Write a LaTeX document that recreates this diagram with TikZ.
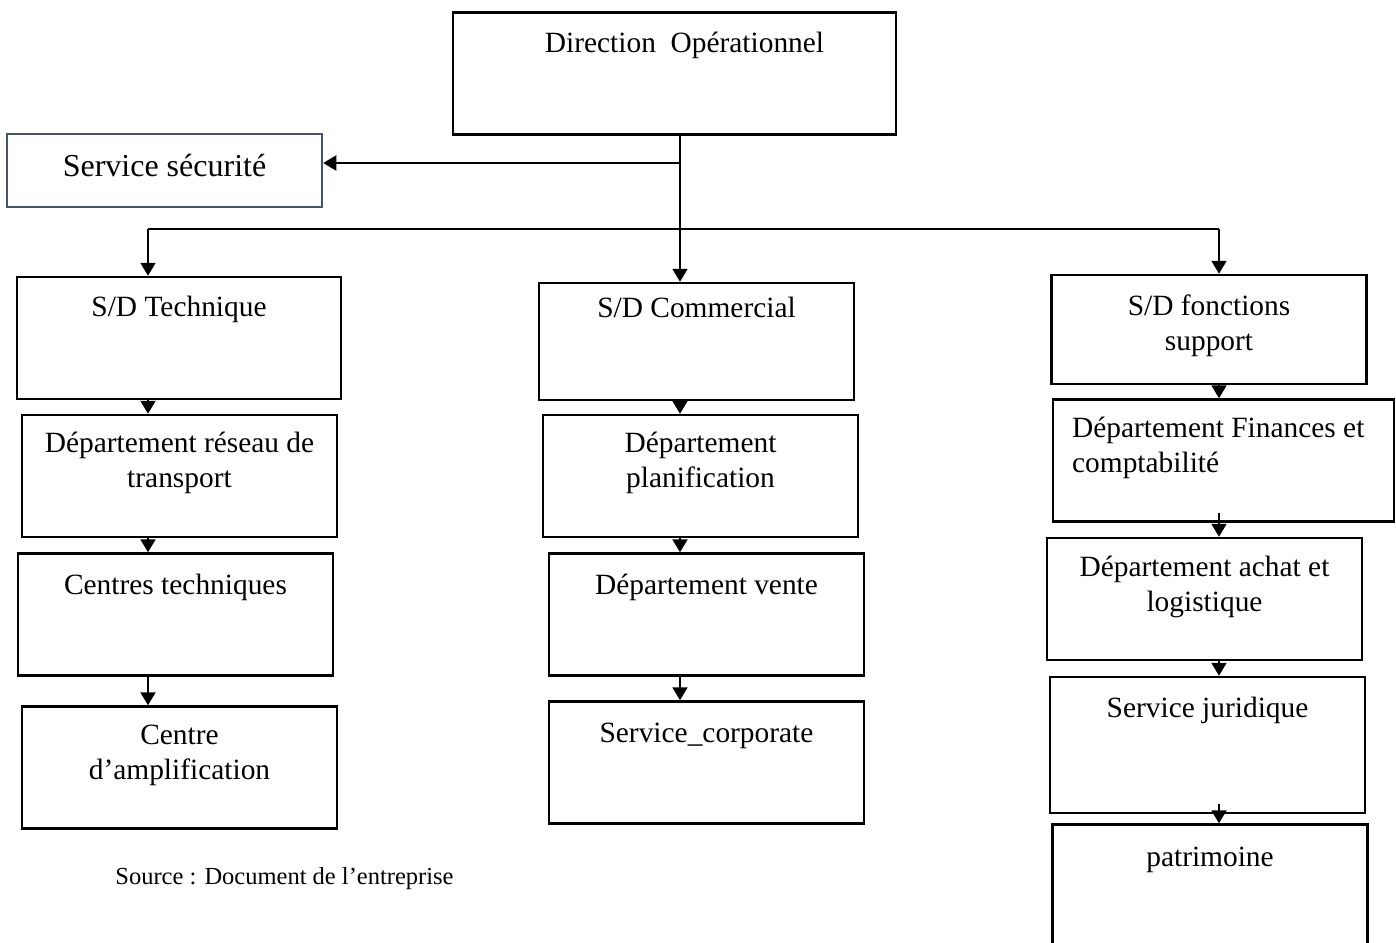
\documentclass[tikz,border=0pt]{standalone}
\usepackage{fontspec}
\setmainfont{Liberation Serif}
\usetikzlibrary{arrows.meta}
\definecolor{secuborder}{RGB}{68,84,106}
\tikzset{
  unit/.style={draw, line width=1.25pt, inner sep=0pt, minimum width=157.5pt, minimum height=61pt},
  lab/.style={align=center, inner sep=0pt, anchor=north, yshift=-8.75pt,
    font=\fontsize{14.7}{17.5}\selectfont, execute at begin node=\strut},
  link/.style={line width=1pt, -{Triangle[length=6.5pt,width=7.5pt]}},
}
\begin{document}
\begin{tikzpicture}[x=0.5pt, y=-0.5pt]
  \clip (0,0) rectangle (1396,942);
  % direction
  \node[unit, minimum width=221.5pt, label={[lab, xshift=5pt, yshift=0.5pt]north:Direction\ \ Opérationnel}] (dir) at (674.5,73.5) {};
  \node[unit, draw=secuborder, minimum height=36.5pt, label={[lab, yshift=-0.75pt, font=\fontsize{16}{17.5}\selectfont]north:Service sécurité}] (secu) at (164.5,170.5) {};
  % S/D Technique
  \node[unit, minimum width=162pt, label={[lab, yshift=1pt]north:S/D Technique}] (sdt) at (179,338) {};
  \node[unit, label={[lab]north:Département réseau de\\transport}] (reseau) at (179.5,476) {};
  \node[unit, label={[lab]north:Centres techniques}] (centres) at (175.5,614.5) {};
  \node[unit, label={[lab, yshift=-1pt]north:Centre\\d’amplification}] (ampli) at (179.5,767.5) {};
  % S/D Commercial
  \node[unit, minimum height=58.5pt, label={[lab, yshift=3.5pt]north:S/D Commercial}] (com) at (696.5,341.5) {};
  \node[unit, label={[lab]north:Département\\planification}] (planif) at (700.5,476) {};
  \node[unit, label={[lab]north:Département vente}] (vente) at (706.5,614.5) {};
  \node[unit, label={[lab]north:Service\_corporate}] (corpo) at (706.5,762.5) {};
  % S/D fonctions support
  \node[unit, minimum height=54.5pt, label={[lab, yshift=-1.5pt]north:S/D fonctions\\support}] (sdfs) at (1209,329.5) {};
  \node[unit, minimum width=170.5pt, label={[lab, align=left, anchor=north west, xshift=10pt, yshift=-0.5pt]north west:Département Finances et\\comptabilité}] (fin) at (1223.5,460.5) {};
  \node[unit, label={[lab, yshift=-0.5pt]north:Département achat et\\logistique}] (achat) at (1204.5,599) {};
  \node[unit, minimum height=68pt, label={[lab, yshift=0.5pt]north:Service juridique}] (jur) at (1207.5,745) {};
  \node[unit, label={[lab, yshift=-0.5pt]north:patrimoine}] (patri) at (1210,885.5) {};
  % source
  \node[anchor=base west, inner sep=0pt, font=\fontsize{12.25}{14}\selectfont] (src) at (115,884) {Source : Document de l’entreprise};
  % liaisons
  \coordinate (split) at (680,163);
  \coordinate (bus) at (680,229);
  \coordinate (busL) at (148,229);
  \coordinate (busR) at (1219,229);
  \draw[line width=1pt] (dir.south -| split) -- (bus);
  \draw[link] (split) -- (split -| secu.east);
  \draw[line width=0.75pt] (busL) -- (busR);
  \draw[link] (busL) -- (busL |- sdt.north);
  \draw[link] (bus) -- (bus |- com.north);
  \draw[link] (busR) -- (busR |- sdfs.north);
  \draw[link] (busL |- sdt.south) -- (busL |- reseau.north);
  \draw[link] (busL |- reseau.south) -- (busL |- centres.north);
  \draw[link] (busL |- centres.south) -- (busL |- ampli.north);
  \draw[link] (bus |- com.south) -- (bus |- planif.north);
  \draw[link] (bus |- planif.south) -- (bus |- vente.north);
  \draw[link] (bus |- vente.south) -- (bus |- corpo.north);
  \draw[link] (busR |- sdfs.south) -- (busR |- fin.north);
  \draw[link] ([yshift=5pt]busR |- fin.south) -- (busR |- achat.north);
  \draw[link] (busR |- achat.south) -- (busR |- jur.north);
  \draw[link] ([yshift=5pt]busR |- jur.south) -- (busR |- patri.north);
\end{tikzpicture}
\end{document}
